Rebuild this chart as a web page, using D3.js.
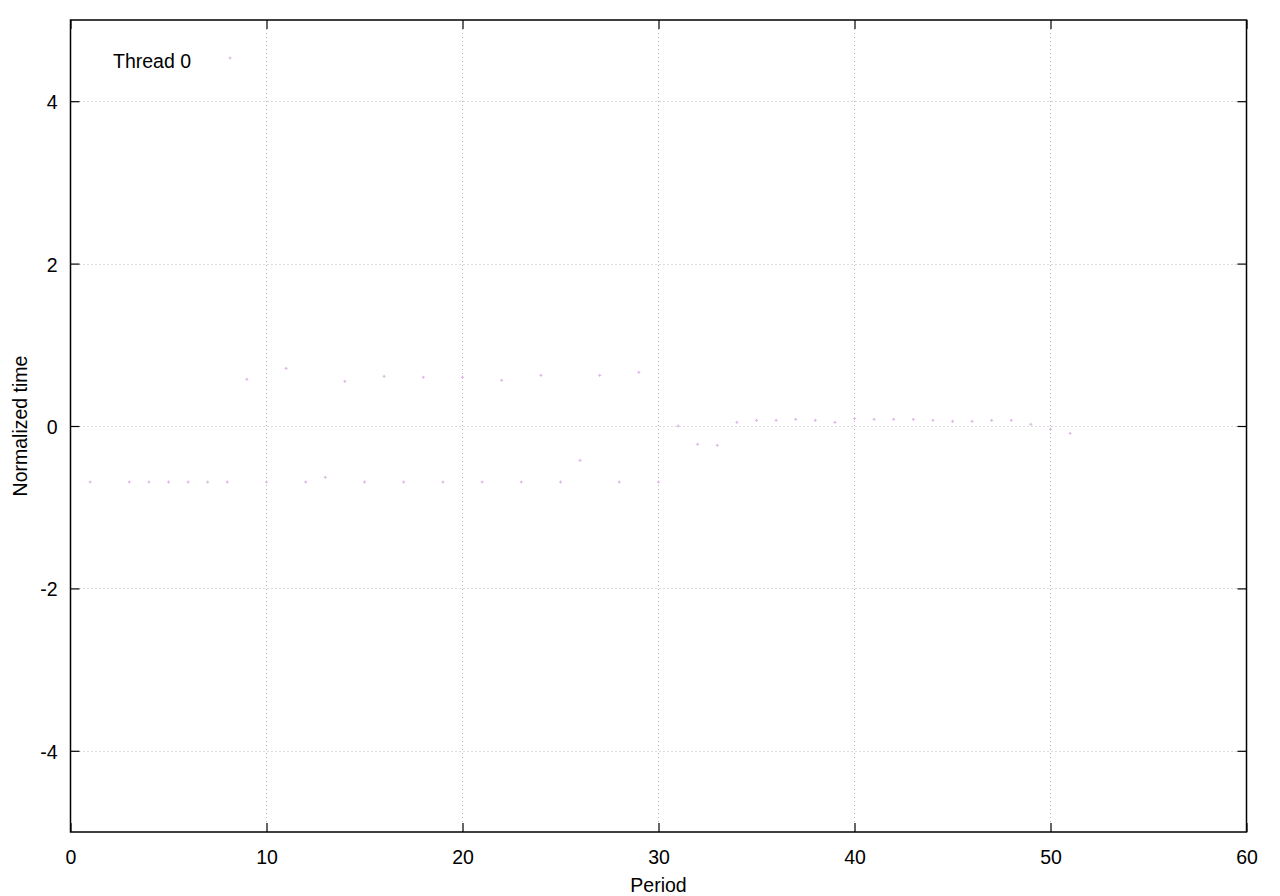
<!DOCTYPE html>
<html>
<head>
<meta charset="utf-8">
<script src="https://cdn.jsdelivr.net/npm/d3@7"></script>
<style>
  body { margin: 0; background: #fff; }
  svg text { font-family: "Liberation Sans", Arial, Helvetica, sans-serif; fill: #000; }
</style>
</head>
<body>
<svg id="chart" width="1280" height="896"></svg>
<script>
// data
var periods = [1, 3, 4, 5, 6, 7, 8, 9, 10, 11, 12, 13, 14, 15, 16, 17, 18, 19, 20,
    21, 22, 23, 24, 25, 26, 27, 28, 29, 30, 31, 32, 33, 34, 35, 36, 37, 38, 39, 40,
    41, 42, 43, 44, 45, 46, 47, 48, 49, 50, 51];
var normTime = [-0.69, -0.69, -0.69, -0.69, -0.69, -0.69, -0.69, 0.575, -0.69, 0.71,
    -0.69, -0.632, 0.55, -0.69, 0.612, -0.69, 0.60, -0.69, 0.60, -0.69,
    0.563, -0.69, 0.624, -0.69, -0.423, 0.624, -0.69, 0.661, -0.69, 0.0,
    -0.225, -0.238, 0.045, 0.07, 0.07, 0.082, 0.07, 0.045, 0.09, 0.082,
    0.082, 0.082, 0.07, 0.058, 0.058, 0.07, 0.07, 0.021, -0.04, -0.09];
var xTicks = [0, 10, 20, 30, 40, 50, 60];
var yTicks = [-4, -2, 0, 2, 4];
var seriesName = "Thread 0";

var svg = d3.select("#chart");
// plot box (named so as not to clash with window.top)
var pLeft = 70.5, pRight = 1246.5, pTop = 20, pBottom = 832;
var pointColor = "#d8b4e0";
var fontSize = 19.5;

var x = d3.scaleLinear().domain([0, 60]).range([pLeft, pRight]);
var y = d3.scaleLinear().domain([-5, 5]).range([pBottom, pTop]);

// grid
var grid = svg.append("g").attr("stroke", "#b8b8b8").attr("stroke-width", 1)
    .attr("stroke-dasharray", "1,3");
grid.selectAll("line.gx").data(xTicks.filter(function (d) { return d > 0 && d < 60; }))
    .enter().append("line")
    .attr("x1", function (d) { return Math.round(x(d)) - 0.5; })
    .attr("x2", function (d) { return Math.round(x(d)) - 0.5; })
    .attr("y1", pTop + 9).attr("y2", pBottom - 9);
grid.selectAll("line.gy").data(yTicks)
    .enter().append("line")
    .attr("y1", function (d) { return Math.round(y(d)) + 0.5; })
    .attr("y2", function (d) { return Math.round(y(d)) + 0.5; })
    .attr("x1", pLeft + 9).attr("x2", pRight - 9);

// axes, ticks pointing in
function styleAxis(g) {
    g.select(".domain").remove();
    g.selectAll(".tick line").attr("stroke", "#000").attr("stroke-width", 1.2);
}

svg.append("g").attr("transform", "translate(0," + pBottom + ")")
    .call(d3.axisBottom(x).tickValues(xTicks).tickSize(-9).tickPadding(18).tickFormat(String))
    .call(styleAxis)
    .selectAll("text").attr("font-size", fontSize);

svg.append("g").attr("transform", "translate(0," + pTop + ")")
    .call(d3.axisTop(x).tickValues(xTicks).tickSize(-9).tickFormat(""))
    .call(styleAxis);

// plain hyphen for negatives, like the original
svg.append("g").attr("transform", "translate(" + pLeft + ",0)")
    .call(d3.axisLeft(y).tickValues(yTicks).tickSize(-9).tickPadding(13).tickFormat(String))
    .call(styleAxis)
    .selectAll("text").attr("font-size", fontSize).attr("dy", "0.38em");

svg.append("g").attr("transform", "translate(" + pRight + ",0)")
    .call(d3.axisRight(y).tickValues(yTicks).tickSize(-9).tickFormat(""))
    .call(styleAxis);

// border
svg.append("rect")
    .attr("x", pLeft).attr("y", pTop)
    .attr("width", pRight - pLeft).attr("height", pBottom - pTop)
    .attr("fill", "none").attr("stroke", "#000").attr("stroke-width", 1.5);

// points
var plus = "M-1.5,0H1.5M0,-1.5V1.5";
svg.append("g").selectAll("path").data(periods)
    .enter().append("path")
    .attr("d", plus)
    .attr("transform", function (d, i) { return "translate(" + x(d) + "," + y(normTime[i]) + ")"; })
    .attr("stroke", pointColor).attr("stroke-width", 1).attr("fill", "none");

// key
svg.append("text").attr("x", 113).attr("y", 68).attr("font-size", fontSize).text(seriesName);
svg.append("path").attr("d", plus)
    .attr("transform", "translate(230,58)")
    .attr("stroke", pointColor).attr("stroke-width", 1).attr("fill", "none");

// axis labels
svg.append("text").attr("x", (pLeft + pRight) / 2).attr("y", 892)
    .attr("text-anchor", "middle").attr("font-size", fontSize).text("Period");
svg.append("text")
    .attr("transform", "translate(27," + (pTop + pBottom) / 2 + ") rotate(-90)")
    .attr("text-anchor", "middle").attr("font-size", fontSize).text("Normalized time");
</script>
</body>
</html>
